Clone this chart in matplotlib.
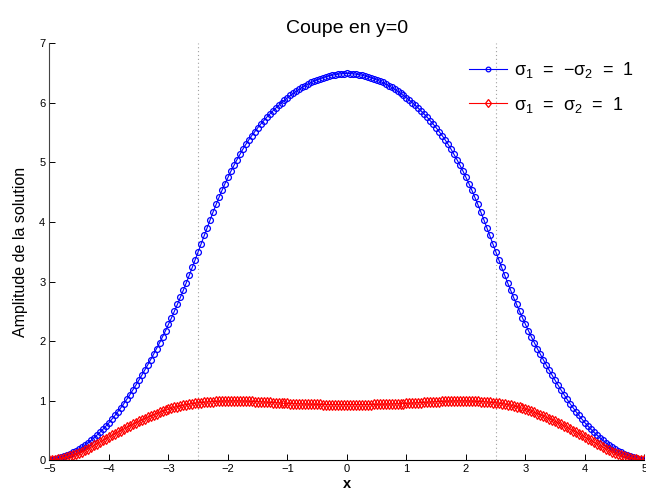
import numpy as np
import matplotlib
matplotlib.use('Agg')
import matplotlib.pyplot as plt

# Coupe en y=0 : amplitude de la solution le long de x
x = np.linspace(-5, 5, 201)

# sigma1 = -sigma2 = 1 (courbe bleue)
amp_oppose = [
    0.000, 0.008, 0.020, 0.034, 0.051, 0.070, 0.091, 0.113, 0.137, 0.163,
    0.190, 0.222, 0.257, 0.295, 0.336, 0.380, 0.425, 0.472, 0.522, 0.575,
    0.630, 0.690, 0.752, 0.816, 0.882, 0.950, 1.023, 1.099, 1.177, 1.257,
    1.340, 1.424, 1.510, 1.598, 1.688, 1.780, 1.874, 1.971, 2.071, 2.174,
    2.280, 2.389, 2.501, 2.616, 2.734, 2.855, 2.979, 3.106, 3.236, 3.368,
    3.502, 3.637, 3.772, 3.906, 4.038, 4.167, 4.292, 4.413, 4.530, 4.642,
    4.749, 4.852, 4.949, 5.042, 5.132, 5.219, 5.301, 5.377, 5.448, 5.515,
    5.579, 5.640, 5.698, 5.754, 5.807, 5.858, 5.907, 5.954, 5.999, 6.042,
    6.083, 6.122, 6.159, 6.194, 6.227, 6.258, 6.287, 6.314, 6.339, 6.362,
    6.383, 6.402, 6.419, 6.435, 6.449, 6.461, 6.471, 6.479, 6.485, 6.489,
    6.491,
    6.489, 6.485, 6.479, 6.471, 6.461, 6.449, 6.435, 6.419, 6.402, 6.383,
    6.362, 6.339, 6.314, 6.287, 6.258, 6.227, 6.194, 6.159, 6.122, 6.083,
    6.042, 5.999, 5.954, 5.907, 5.858, 5.807, 5.754, 5.698, 5.640, 5.579,
    5.515, 5.448, 5.377, 5.301, 5.219, 5.132, 5.042, 4.949, 4.852, 4.749,
    4.642, 4.530, 4.413, 4.292, 4.167, 4.038, 3.906, 3.772, 3.637, 3.502,
    3.368, 3.236, 3.106, 2.979, 2.855, 2.734, 2.616, 2.501, 2.389, 2.280,
    2.174, 2.071, 1.971, 1.874, 1.780, 1.688, 1.598, 1.510, 1.424, 1.340,
    1.257, 1.177, 1.099, 1.023, 0.950, 0.882, 0.816, 0.752, 0.690, 0.630,
    0.575, 0.522, 0.472, 0.425, 0.380, 0.336, 0.295, 0.257, 0.222, 0.190,
    0.163, 0.137, 0.113, 0.091, 0.070, 0.051, 0.034, 0.020, 0.008, 0.000,
]

# sigma1 = sigma2 = 1 (courbe rouge)
amp_egal = [
    0.000, 0.004, 0.010, 0.018, 0.028, 0.040, 0.054, 0.069, 0.085, 0.102,
    0.120, 0.142, 0.166, 0.192, 0.220, 0.250, 0.279, 0.307, 0.335, 0.363,
    0.390, 0.418, 0.446, 0.473, 0.500, 0.526, 0.552, 0.578, 0.603, 0.628,
    0.652, 0.676, 0.699, 0.721, 0.743, 0.764, 0.784, 0.803, 0.822, 0.840,
    0.857, 0.873, 0.888, 0.901, 0.913, 0.924, 0.934, 0.943, 0.951, 0.958,
    0.964, 0.969, 0.974, 0.978, 0.982, 0.985, 0.988, 0.990, 0.992, 0.993,
    0.994, 0.995, 0.995, 0.995, 0.994, 0.993, 0.992, 0.990, 0.988, 0.986,
    0.983, 0.980, 0.977, 0.974, 0.971, 0.968, 0.965, 0.962, 0.959, 0.956,
    0.954, 0.952, 0.950, 0.948, 0.946, 0.944, 0.943, 0.941, 0.940, 0.939,
    0.938, 0.937, 0.936, 0.935, 0.935, 0.934, 0.934, 0.933, 0.933, 0.933,
    0.933,
    0.933, 0.933, 0.933, 0.934, 0.934, 0.935, 0.935, 0.936, 0.937, 0.938,
    0.939, 0.940, 0.941, 0.943, 0.944, 0.946, 0.948, 0.950, 0.952, 0.954,
    0.956, 0.959, 0.962, 0.965, 0.968, 0.971, 0.974, 0.977, 0.980, 0.983,
    0.986, 0.988, 0.990, 0.992, 0.993, 0.994, 0.995, 0.995, 0.995, 0.994,
    0.993, 0.992, 0.990, 0.988, 0.985, 0.982, 0.978, 0.974, 0.969, 0.964,
    0.958, 0.951, 0.943, 0.934, 0.924, 0.913, 0.901, 0.888, 0.873, 0.857,
    0.840, 0.822, 0.803, 0.784, 0.764, 0.743, 0.721, 0.699, 0.676, 0.652,
    0.628, 0.603, 0.578, 0.552, 0.526, 0.500, 0.473, 0.446, 0.418, 0.390,
    0.363, 0.335, 0.307, 0.279, 0.250, 0.220, 0.192, 0.166, 0.142, 0.120,
    0.102, 0.085, 0.069, 0.054, 0.040, 0.028, 0.018, 0.010, 0.004, 0.000,
]

interfaces = [-2.5, 2.5]
labels = [r'$\sigma_1$  =  $-\sigma_2$  =  1', r'$\sigma_1$  =  $\sigma_2$  =  1']

plt.rcParams['font.family'] = ['Liberation Sans', 'DejaVu Sans']
plt.rcParams['mathtext.fontset'] = 'custom'
plt.rcParams['mathtext.rm'] = 'Liberation Sans'
plt.rcParams['mathtext.it'] = 'Liberation Sans'
plt.rcParams['mathtext.bf'] = 'Liberation Sans:bold'

fig = plt.figure(figsize=(6.46, 4.97), dpi=100)
ax = fig.add_axes([0.0766, 0.0738, 0.921, 0.8395])

# limites des sous-domaines
for xi in interfaces:
    ax.axvline(xi, color='#a0a0a0', linestyle=(0, (1, 2.5)), linewidth=0.8)

ax.plot(x, amp_oppose, color='blue', linewidth=0.8, marker='o', markersize=4.2,
        markerfacecolor='none', markeredgewidth=0.9, label=labels[0])
ax.plot(x, amp_egal, color='red', linewidth=0.8, marker='d', markersize=5.5,
        markerfacecolor='none', markeredgewidth=0.9, label=labels[1])

ax.set_xlim(-5, 5)
ax.set_ylim(0, 7)
ax.set_xticks(range(-5, 6))
ax.set_yticks(range(0, 8))
ax.tick_params(direction='in', length=4, width=0.7, labelsize=8, pad=3)
ax.spines['top'].set_visible(False)
ax.spines['right'].set_visible(False)
ax.spines['left'].set_color('#444444')
ax.spines['left'].set_linewidth(0.8)
ax.spines['bottom'].set_linewidth(0.8)

ax.set_title('Coupe en y=0', fontsize=14, pad=7)
ax.set_xlabel('x', fontsize=10.5, fontweight='bold', labelpad=2)
ax.set_ylabel('Amplitude de la solution', fontsize=11.5, labelpad=8)

ax.legend(loc='upper right', bbox_to_anchor=(1.0, 0.985), frameon=False,
          fontsize=13, handlelength=2.1, handletextpad=0.35, labelspacing=0.8,
          borderaxespad=0.2, markerscale=0.8)

plt.savefig('out.png', dpi=100)
